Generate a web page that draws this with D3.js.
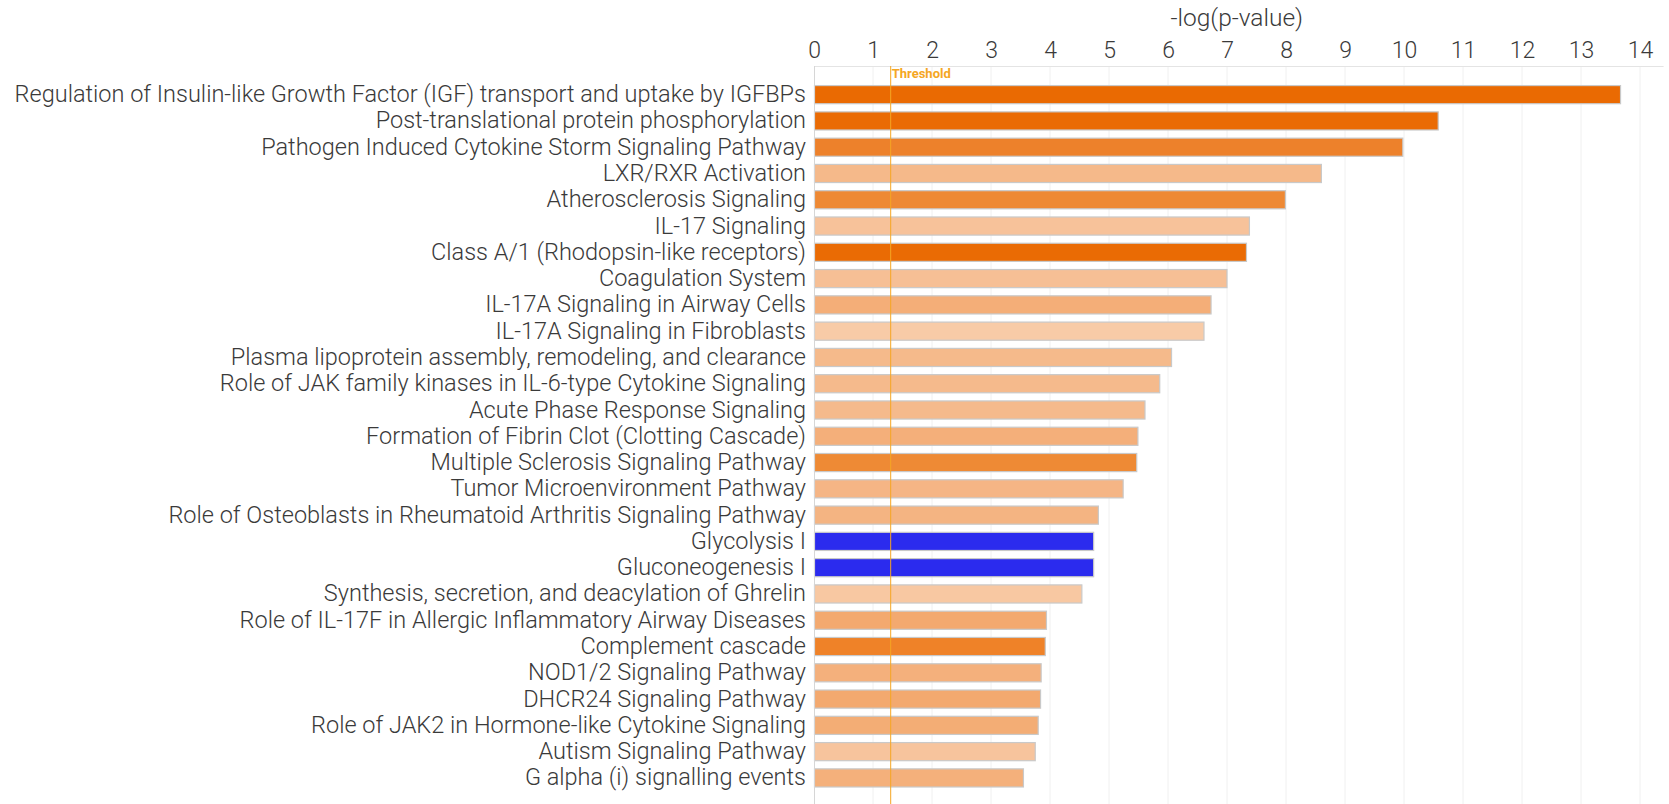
<!DOCTYPE html>
<html>
<head>
<meta charset="utf-8">
<script src="https://cdn.jsdelivr.net/npm/d3@7"></script>
<style>
  html, body { margin: 0; padding: 0; background: #fff; }
  svg { display: block; }
</style>
</head>
<body>
<svg id="chart" width="1669" height="804"></svg>
<script>
const pathways = [
  "Regulation of Insulin-like Growth Factor (IGF) transport and uptake by IGFBPs",
  "Post-translational protein phosphorylation",
  "Pathogen Induced Cytokine Storm Signaling Pathway",
  "LXR/RXR Activation",
  "Atherosclerosis Signaling",
  "IL-17 Signaling",
  "Class A/1 (Rhodopsin-like receptors)",
  "Coagulation System",
  "IL-17A Signaling in Airway Cells",
  "IL-17A Signaling in Fibroblasts",
  "Plasma lipoprotein assembly, remodeling, and clearance",
  "Role of JAK family kinases in IL-6-type Cytokine Signaling",
  "Acute Phase Response Signaling",
  "Formation of Fibrin Clot (Clotting Cascade)",
  "Multiple Sclerosis Signaling Pathway",
  "Tumor Microenvironment Pathway",
  "Role of Osteoblasts in Rheumatoid Arthritis Signaling Pathway",
  "Glycolysis I",
  "Gluconeogenesis I",
  "Synthesis, secretion, and deacylation of Ghrelin",
  "Role of IL-17F in Allergic Inflammatory Airway Diseases",
  "Complement cascade",
  "NOD1/2 Signaling Pathway",
  "DHCR24 Signaling Pathway",
  "Role of JAK2 in Hormone-like Cytokine Signaling",
  "Autism Signaling Pathway",
  "G alpha (i) signalling events"
];

const negLogP = [
  13.67, 10.58, 9.98, 8.60, 7.99, 7.38, 7.33, 7.00, 6.73, 6.61,
  6.06, 5.86, 5.61, 5.49, 5.47, 5.24, 4.82, 4.74, 4.74, 4.54,
  3.94, 3.92, 3.85, 3.84, 3.80, 3.75, 3.55
];

const barColors = [
  "#ea6a02", "#ea6b04", "#ed812b", "#f5b98a", "#ee8934", "#f7c29a", "#ea6b04",
  "#f6bf95", "#f4ae78", "#f8cba7", "#f5ba8b", "#f5ba8c", "#f5ba8c", "#f4af7a",
  "#ee8a35", "#f5b585", "#f4b482", "#2b2bee", "#2b2bee", "#f8c8a2", "#f3a96f",
  "#ef8228", "#f4b07c", "#f3a96f", "#f3ad75", "#f7c49d", "#f4b07b"
];

const xTicks = d3.range(0, 15);
const thresholdValue = 1.3;
const axisTitle = "-log(p-value)";
const thresholdLabel = "Threshold";

const svg = d3.select("#chart");
const fontFamily = "Roboto, 'Liberation Sans', Arial, sans-serif";
const textColor = "#3a3a3a";

const plotLeft = 814, plotRight = 1663.6, plotTop = 66, plotBottom = 804;
const x = d3.scaleLinear().domain([0, 14.4]).range([plotLeft, plotRight]);
const y = d3.scaleBand().domain(pathways).range([81.5, 81.5 + 26.28 * pathways.length])
  .paddingInner(0.31).paddingOuter(0.155);

// grid lines
svg.append("g").selectAll("line").data(xTicks.filter(d => d > 0)).join("line")
  .attr("x1", d => x(d)).attr("x2", d => x(d))
  .attr("y1", plotTop).attr("y2", plotBottom)
  .attr("stroke", "#f0f0f0").attr("stroke-width", 1);

// top border
svg.append("line").attr("x1", plotLeft).attr("x2", plotRight).attr("y1", plotTop + 0.5).attr("y2", plotTop + 0.5)
  .attr("stroke", "#e4e4e4").attr("stroke-width", 1);

// top axis (labels only)
const xAxis = d3.axisTop(x).tickValues(xTicks).tickSize(0).tickPadding(0).tickFormat(d3.format("d"));
const gx = svg.append("g").attr("transform", `translate(0,${plotTop - 8})`).call(xAxis);
gx.select(".domain").remove();
gx.selectAll("text").attr("font-family", fontFamily).attr("font-size", 23).attr("font-weight", 300)
  .attr("fill", textColor).attr("dy", "0");

// title
svg.append("text").attr("x", (x.range()[0] + x.range()[1]) / 2 - 2).attr("y", 26).attr("text-anchor", "middle")
  .attr("font-family", fontFamily).attr("font-size", 24.5).attr("font-weight", 300).attr("fill", textColor)
  .text(axisTitle);

// bars
svg.append("g").selectAll("rect").data(pathways).join("rect")
  .attr("x", x(0) + 0.5)
  .attr("y", d => y(d))
  .attr("width", (d, i) => x(negLogP[i]) - x(0) - 0.5)
  .attr("height", y.bandwidth())
  .attr("fill", (d, i) => barColors[i])
  .attr("stroke", "#c9c9c9").attr("stroke-width", 1.2);

// left axis (category labels)
const yAxis = d3.axisLeft(y).tickSize(0).tickPadding(8);
const gy = svg.append("g").attr("transform", `translate(${plotLeft},0)`).call(yAxis);
gy.select(".domain").remove();
gy.selectAll("text").attr("font-family", fontFamily).attr("font-size", 20).attr("font-weight", 300).attr("fill", textColor);

// fit longest label to reference width
const longest = gy.selectAll("text").nodes()[0];
const w = longest.getComputedTextLength();
const fs = 20 * 792 / w;
gy.selectAll("text").attr("font-size", fs);

// axis line
svg.append("line").attr("x1", plotLeft + 0.5).attr("x2", plotLeft + 0.5).attr("y1", plotTop).attr("y2", plotBottom)
  .attr("stroke", "#d6d6d6").attr("stroke-width", 1);

// threshold
svg.append("line").attr("x1", x(thresholdValue)).attr("x2", x(thresholdValue))
  .attr("y1", plotTop).attr("y2", plotBottom)
  .attr("stroke", "#f5a623").attr("stroke-width", 1);
svg.append("text").attr("x", x(thresholdValue) + 1).attr("y", 78)
  .attr("font-family", fontFamily).attr("font-size", 13).attr("font-weight", "bold")
  .attr("fill", "#f5a623").text(thresholdLabel);
</script>
</body>
</html>
